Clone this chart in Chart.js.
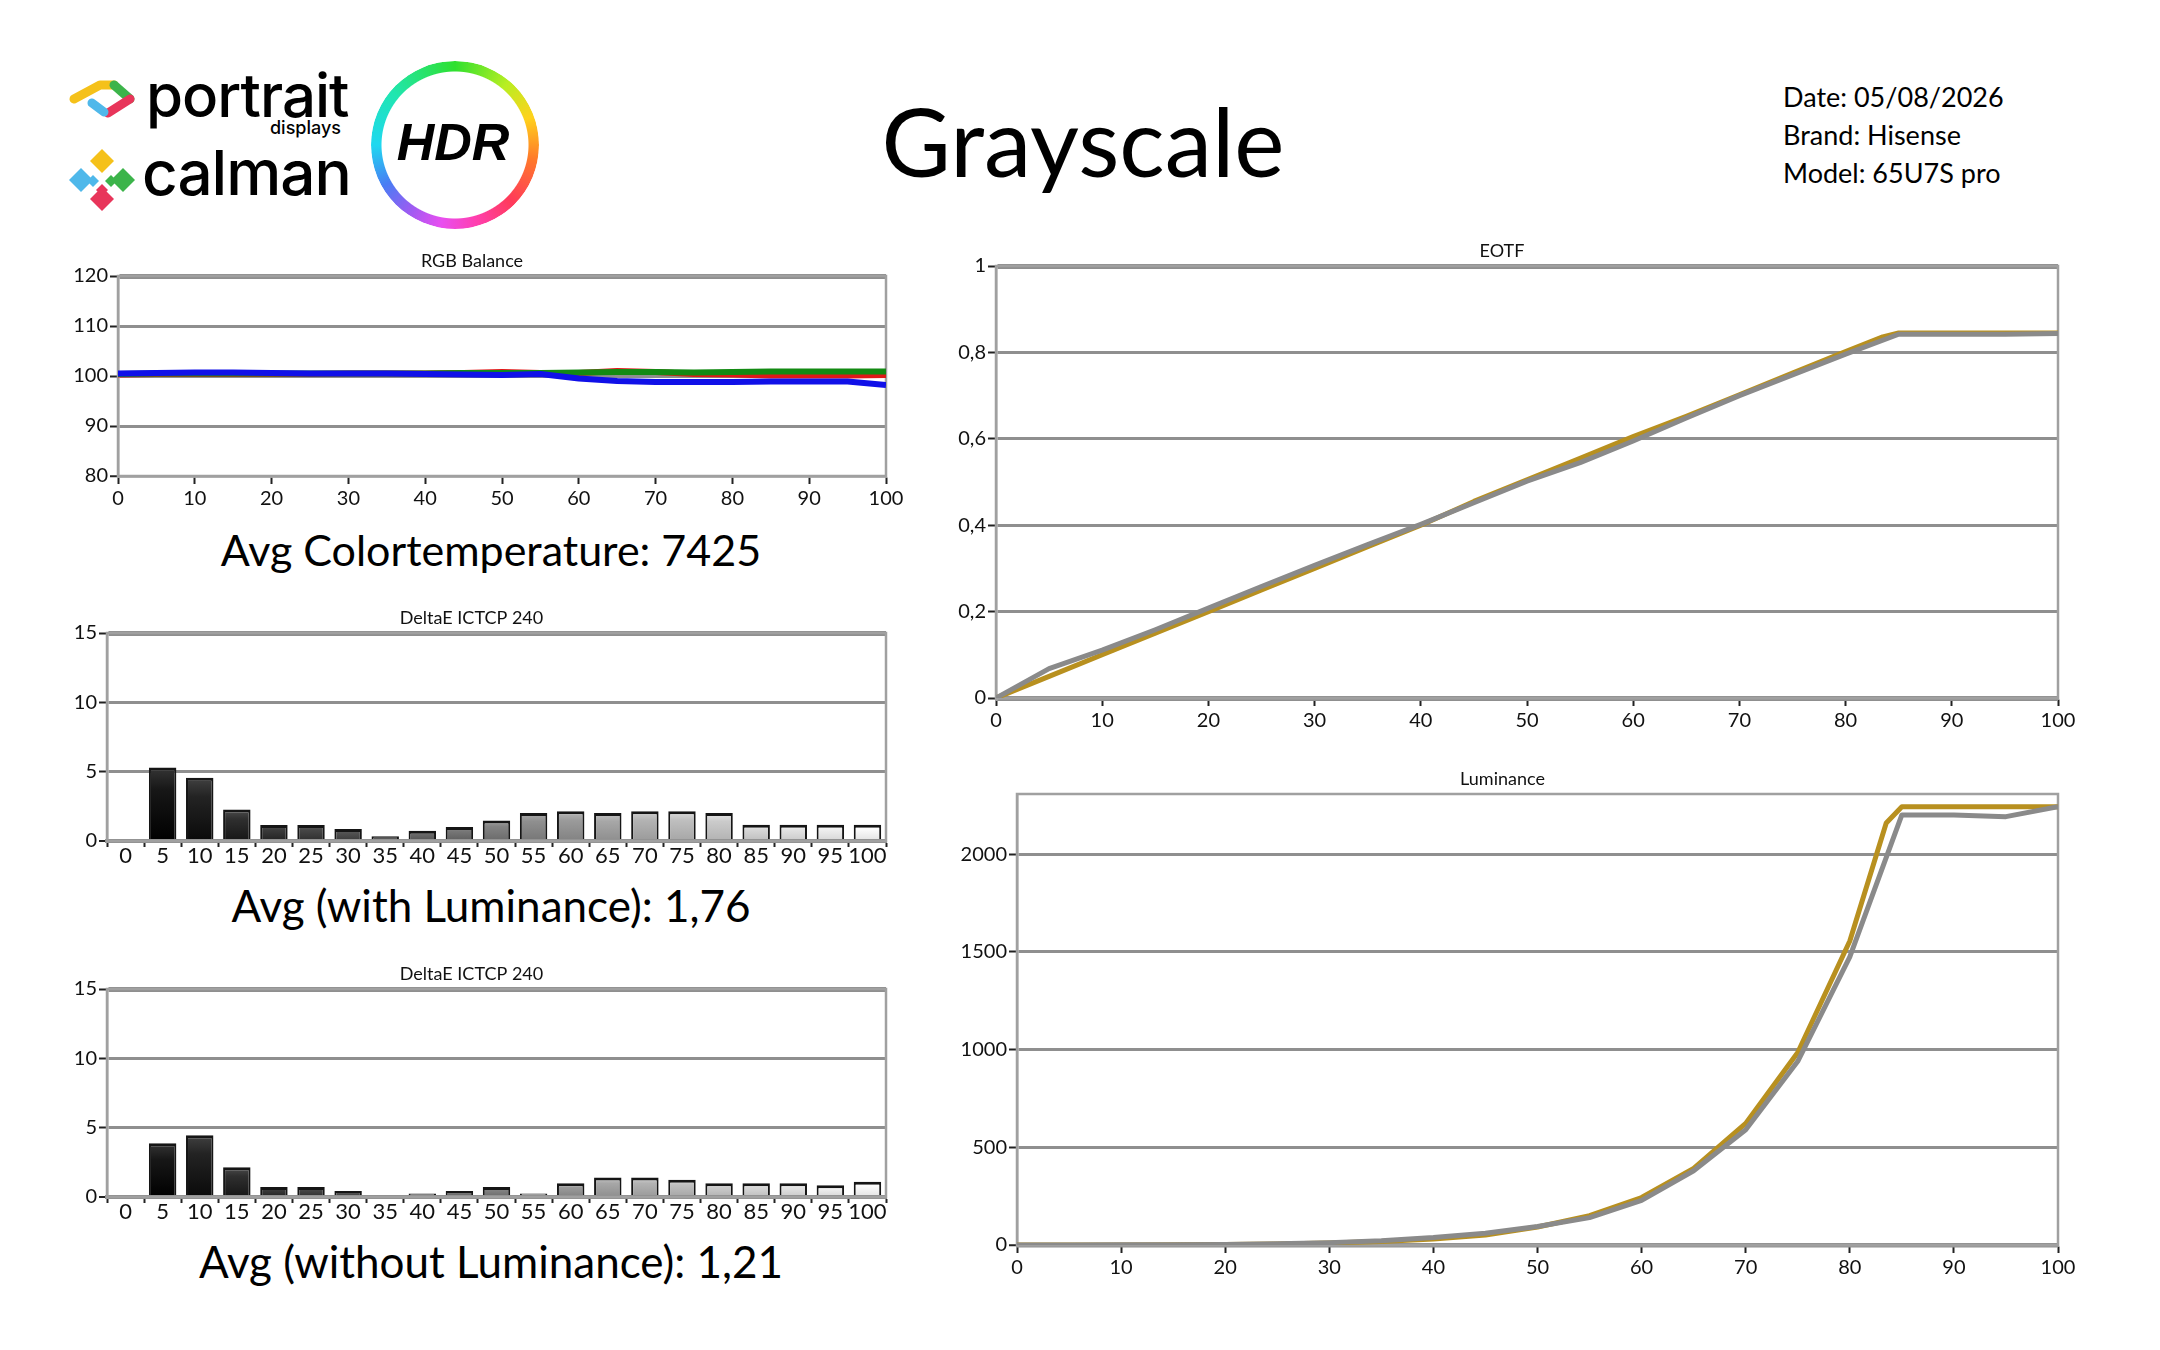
<!DOCTYPE html>
<html>
<head>
<meta charset="utf-8">
<title>Grayscale</title>
<script src="https://cdn.jsdelivr.net/npm/chart.js@4.4.1/dist/chart.umd.min.js"></script>
<style>
  html, body { margin: 0; padding: 0; background: #fff; }
  body { width: 2160px; height: 1350px; position: relative; overflow: hidden; font-family: Lato, sans-serif; }
  canvas { position: absolute; }
  #page { position: absolute; left: 0; top: 0; }
  #ring {
    position: absolute; left: 371px; top: 61px; width: 168px; height: 168px; border-radius: 50%;
    background: conic-gradient(from 0deg, #2fe02f, #b8ee22 40deg, #ffd21c 70deg, #ff7a2a 100deg, #ff3a5a 135deg,
      #ff3fb0 165deg, #e84ef0 190deg, #9b5cf2 215deg, #4a7cf4 240deg, #1fd8f0 270deg, #20e6b0 310deg, #2fe02f 360deg);
    -webkit-mask: radial-gradient(circle, transparent 73px, #000 74px);
    mask: radial-gradient(circle, transparent 73px, #000 74px);
  }
</style>
</head>
<body>
<div id="ring"></div>
<svg id="page" width="2160" height="1350">
  <!-- portrait displays mark -->
  <g stroke-width="9" stroke-linecap="round" stroke-linejoin="round" fill="none">
    <polyline points="74,99 100,85 114,85" stroke="#f5c11a"/>
    <polyline points="114,85 130,99" stroke="#3cb44a"/>
    <polyline points="130,99 108,113" stroke="#e8355a"/>
    <polyline points="92,103 104,112" stroke="#4fb8ea"/>
  </g>
  <text x="146" y="117" font-family="Inter" font-weight="500" font-size="60" letter-spacing="-1">portrait</text>
  <text x="341" y="134" font-family="Inter" font-weight="500" font-size="18" text-anchor="end">displays</text>
  <!-- calman mark -->
  <g>
    <polygon points="102,149 114,161 102,173 90,161" fill="#f5c11a"/>
    <polygon points="81,168 93,180 81,192 69,180" fill="#4fb8ea"/>
    <polygon points="123,168 135,180 123,192 111,180" fill="#3cb44a"/>
    <polygon points="102,187 114,199 102,211 90,199" fill="#e8355a"/>
    <polygon points="93,175 99,181 93,187 87,181" fill="#4fb8ea"/>
    <polygon points="111,175 117,181 111,187 105,181" fill="#3cb44a"/>
    <polygon points="102,184 108,190 102,196 96,190" fill="#e8355a"/>
  </g>
  <text x="142" y="195" font-family="Inter" font-weight="500" font-size="62" letter-spacing="-1">calman</text>
  <text x="453" y="160" font-family="Liberation Sans" font-weight="bold" font-style="italic" font-size="52" text-anchor="middle">HDR</text>

  <text x="1083" y="177" font-family="Lato" font-size="95" text-anchor="middle">Grayscale</text>
  <text x="1783" y="107" font-family="Lato" font-size="27">Date: 05/08/2026</text>
  <text x="1783" y="145" font-family="Lato" font-size="27">Brand: Hisense</text>
  <text x="1783" y="183" font-family="Lato" font-size="27">Model: 65U7S pro</text>

  <text x="491" y="566" font-family="Lato" font-size="43" text-anchor="middle">Avg Colortemperature: 7425</text>
  <text x="491" y="922" font-family="Lato" font-size="44" text-anchor="middle">Avg (with Luminance): 1,76</text>
  <text x="491" y="1278" font-family="Lato" font-size="44" text-anchor="middle">Avg (without Luminance): 1,21</text>
</svg>

<canvas id="rgb"></canvas>
<canvas id="de1"></canvas>
<canvas id="de2"></canvas>
<canvas id="eotf"></canvas>
<canvas id="lum"></canvas>

<script>
// stimulus levels (% signal)
const stimulus = [0, 5, 10, 15, 20, 25, 30, 35, 40, 45, 50, 55, 60, 65, 70, 75, 80, 85, 90, 95, 100];
const targetStimulus = [0, 5, 10, 15, 20, 25, 30, 35, 40, 45, 50, 55, 60, 65, 70, 75, 80, 83.5, 85, 90, 95, 100];
const barLabels = ['0', '5', '10', '15', '20', '25', '30', '35', '40', '45', '50', '55', '60', '65', '70', '75', '80', '85', '90', '95', '100'];
const lumTicks = [0, 500, 1000, 1500, 2000];

// RGB balance (%)
const rgbRed   = [100.3, 100.4, 100.4, 100.4, 100.4, 100.4, 100.5, 100.5, 100.5, 100.6, 100.8, 100.6, 100.6, 101.0, 100.8, 100.4, 100.3, 100.1, 100.1, 100.1, 100.2];
const rgbGreen = [100.4, 100.5, 100.5, 100.5, 100.5, 100.5, 100.5, 100.5, 100.5, 100.6, 100.6, 100.6, 100.7, 100.8, 100.8, 100.7, 100.8, 100.9, 100.9, 100.9, 100.9];
const rgbBlue  = [100.5, 100.6, 100.7, 100.7, 100.6, 100.5, 100.5, 100.5, 100.4, 100.3, 100.2, 100.4, 99.5, 99.0, 98.8, 98.8, 98.8, 98.9, 98.9, 98.9, 98.2];

// DeltaE ICtCp
const deltaEWithLum    = [0, 5.3, 4.56, 2.27, 1.16, 1.16, 0.86, 0.34, 0.74, 1.01, 1.48, 2.02, 2.14, 2.02, 2.14, 2.14, 2.02, 1.18, 1.18, 1.18, 1.18];
const deltaEWithoutLum = [0, 3.88, 4.45, 2.15, 0.73, 0.73, 0.43, 0.15, 0.25, 0.43, 0.73, 0.25, 1.0, 1.4, 1.4, 1.25, 1.0, 1.0, 1.0, 0.85, 1.1];

// EOTF (normalised)
const eotfTarget   = [0, 0.05, 0.10, 0.15, 0.20, 0.25, 0.30, 0.35, 0.40, 0.455, 0.505, 0.555, 0.605, 0.652, 0.702, 0.752, 0.802, 0.836, 0.845, 0.845, 0.845, 0.845];
const eotfMeasured = [0, 0.068, 0.111, 0.158, 0.208, 0.258, 0.307, 0.355, 0.402, 0.452, 0.502, 0.545, 0.595, 0.648, 0.700, 0.748, 0.796, 0.842, 0.842, 0.842, 0.844];

// Luminance (cd/m2)
const lumTarget   = [0, 0.1, 0.3, 0.9, 2.4, 5.1, 10, 18, 31, 51, 92, 150, 243, 392, 622, 985, 1556, 2160, 2243, 2243, 2243, 2243];
const lumMeasured = [0.3, 0.5, 1, 1.5, 3, 6, 12, 22, 38, 60, 95, 140, 228, 380, 590, 940, 1475, 2201, 2200, 2192, 2243];

const GRID = '#8f8f8f';
const FRAME = '#a0a0a0';
const INK = '#111111';

Chart.defaults.font.family = 'Lato';
Chart.defaults.color = INK;
Chart.defaults.animation = false;

const framePlugin = {
  id: 'frame',
  beforeDatasetsDraw(chart) {
    const a = chart.chartArea;
    const c = chart.ctx;
    c.save();
    c.strokeStyle = FRAME;
    c.lineWidth = 2.5;
    c.strokeRect(a.left, a.top, a.width, a.height);
    c.restore();
  }
};

// place a canvas so that its plot area lands on the given box
function placeCanvas(id, left, top, right, bottom, yW, xH) {
  const titleH = 28, padR = 24;
  const cv = document.getElementById(id);
  cv.width = right - left + yW + padR;
  cv.height = bottom - top + titleH + xH;
  cv.style.left = (left - yW) + 'px';
  cv.style.top = (top - titleH) + 'px';
  return cv;
}

function titleOpts(text) {
  return {
    display: true, text: text, color: INK,
    font: { size: 18, weight: 'normal', lineHeight: '22px' },
    padding: { top: 2, bottom: 4 }
  };
}

function pts(xs, ys) {
  return xs.map((x, i) => ({ x: x, y: ys[i] }));
}

function lineChart(id, box, title, datasets, yOpts, gridW) {
  const cv = placeCanvas(id, box[0], box[1], box[2], box[3], box[4], 40);
  return new Chart(cv, {
    type: 'line',
    data: { datasets: datasets },
    options: {
      responsive: false,
      layout: { padding: { right: 24 } },
      plugins: { legend: { display: false }, title: titleOpts(title), tooltip: { enabled: false } },
      elements: { point: { radius: 0 }, line: { tension: 0, borderJoinStyle: 'round' } },
      scales: {
        x: {
          type: 'linear', min: 0, max: 100,
          ticks: { stepSize: 10, font: { size: 20 }, padding: 3, color: INK },
          grid: { drawOnChartArea: false, tickColor: '#222', tickLength: 8, tickWidth: 2 },
          border: { color: FRAME, width: 2.5 },
          afterFit: s => { s.height = 40; }
        },
        y: Object.assign({
          grid: { color: GRID, lineWidth: gridW, tickColor: '#222', tickLength: 8, tickWidth: 2 },
          border: { color: FRAME, width: 2.5 },
          afterFit: s => { s.width = box[4]; }
        }, yOpts)
      }
    },
    plugins: [framePlugin]
  });
}

function shade(v) {
  const g = Math.max(0, Math.min(255, Math.round(v)));
  return 'rgb(' + g + ',' + g + ',' + g + ')';
}

function barFill(ctx) {
  const chart = ctx.chart;
  const area = chart.chartArea;
  if (!area || !ctx.raw) return '#888';
  const base = 8 + (ctx.dataIndex - 1) * 12;
  const top = chart.scales.y.getPixelForValue(ctx.raw);
  const grad = chart.ctx.createLinearGradient(0, top, 0, area.bottom);
  grad.addColorStop(0, shade(base + 45));
  grad.addColorStop(0.3, shade(base + 15));
  grad.addColorStop(1, shade(base - 10));
  return grad;
}

function barChart(id, box, values) {
  const cv = placeCanvas(id, box[0], box[1], box[2], box[3], box[4], 40);
  return new Chart(cv, {
    type: 'bar',
    data: {
      labels: barLabels,
      datasets: [{
        data: values,
        backgroundColor: barFill,
        borderColor: '#151515',
        borderWidth: { top: 3, left: 2, right: 2, bottom: 0 },
        borderSkipped: false,
        barPercentage: 0.74,
        categoryPercentage: 1
      }]
    },
    options: {
      responsive: false,
      layout: { padding: { right: 24 } },
      plugins: { legend: { display: false }, title: titleOpts('DeltaE ICTCP 240'), tooltip: { enabled: false } },
      scales: {
        x: {
          ticks: { font: { size: 22, lineHeight: 1 }, padding: -2, color: INK, autoSkip: false, maxRotation: 0 },
          grid: { drawOnChartArea: false, offset: true, tickColor: '#222', tickLength: 6, tickWidth: 2 },
          border: { color: GRID, width: 4 },
          afterFit: s => { s.height = 40; }
        },
        y: {
          min: 0, max: 15,
          ticks: { stepSize: 5, font: { size: 20 }, padding: 2, color: INK },
          grid: { color: GRID, lineWidth: c => (c.tick.value === 15 ? 5 : (c.tick.value === 0 ? 4 : 3)), tickColor: '#222', tickLength: 8, tickWidth: 2 },
          border: { color: FRAME, width: 2.5 },
          afterFit: s => { s.width = box[4]; }
        }
      }
    },
    plugins: [framePlugin]
  });
}

// RGB Balance
lineChart('rgb', [118, 276, 886, 476, 60], 'RGB Balance', [
  { data: pts(stimulus, rgbBlue), borderColor: '#1010e8', borderWidth: 6 },
  { data: pts(stimulus, rgbGreen), borderColor: '#138a13', borderWidth: 6 },
  { data: pts(stimulus, rgbRed), borderColor: '#e01818', borderWidth: 6 }
], { min: 80, max: 120, ticks: { stepSize: 10, font: { size: 20 }, padding: 2, color: INK } },
  c => (c.tick.value === 120 ? 5 : (c.tick.value === 80 ? 2.5 : 3)));

// DeltaE charts
barChart('de1', [107, 633, 886, 841, 50], deltaEWithLum);
barChart('de2', [107, 989, 886, 1197, 50], deltaEWithoutLum);

// EOTF
lineChart('eotf', [996, 266, 2058, 698, 50], 'EOTF', [
  { data: pts(stimulus, eotfMeasured), borderColor: '#8a8a8a', borderWidth: 5 },
  { data: pts(targetStimulus, eotfTarget), borderColor: '#b8901f', borderWidth: 5 }
], { min: 0, max: 1,
     ticks: { stepSize: 0.2, font: { size: 20 }, padding: 2, color: INK,
              callback: v => String(Math.round(v * 10) / 10).replace('.', ',') } },
  c => ((c.tick.value === 1 || c.tick.value === 0) ? 5 : 3));

// Luminance
lineChart('lum', [1017, 794, 2058, 1245, 70], 'Luminance', [
  { data: pts(stimulus, lumMeasured), borderColor: '#8a8a8a', borderWidth: 5 },
  { data: pts(targetStimulus, lumTarget), borderColor: '#b8901f', borderWidth: 5 }
], { min: 0, max: 2308,
     afterBuildTicks: s => { s.ticks = lumTicks.map(v => ({ value: v })); },
     ticks: { font: { size: 20 }, padding: 2, color: INK, callback: v => String(v) } },
  c => (c.tick.value === 0 ? 4.5 : 3));
</script>
</body>
</html>
